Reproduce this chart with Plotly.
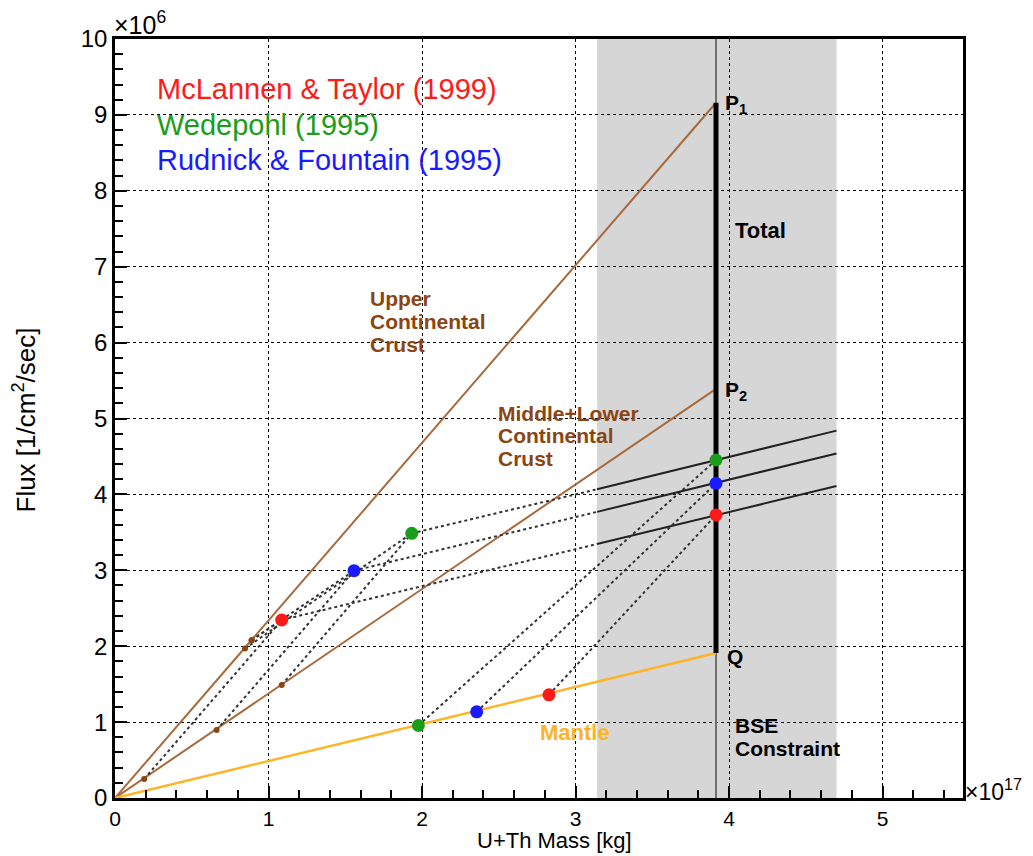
import plotly.graph_objects as go

# ---------------- data ----------------
models = ["McLannen & Taylor (1999)", "Wedepohl (1995)", "Rudnick & Fountain (1995)"]
model_colors = ["#ff1a1a", "#1a9e1a", "#1a1aff"]

# reservoir lines from origin to the BSE constraint mass
bse_mass = 3.915
ucc_line_flux = 9.16      # P1
mlcc_line_flux = 5.39     # P2
mantle_line_flux = 1.91   # Q

# upper crust contributions per model
ucc_mass = [0.89, 0.847, 0.89]
ucc_flux = [2.08, 1.97, 2.08]
# middle + lower crust contributions per model
mlcc_mass = [0.19, 1.086, 0.662]
mlcc_flux = [0.25, 1.49, 0.896]
# whole crust (sum) per model
crust_mass = [1.086, 1.933, 1.557]
crust_flux = [2.345, 3.487, 2.995]
# mantle contribution per model
mantle_mass = [2.827, 1.976, 2.356]
mantle_flux = [1.36, 0.955, 1.135]
# total flux at the BSE constraint
total_flux = [3.729, 4.453, 4.146]

# shaded band and total-flux lines
band_lo, band_hi = 3.14, 4.70
tline_lo_flux = [3.346, 4.067, 3.77]
tline_hi_flux = [4.11, 4.84, 4.54]

x_range = [0, 5.524]
y_range = [0, 10]

BROWN_LINE = "#a86a3d"
BROWN_TEXT = "#8b4513"
ORANGE = "#ffb326"
DOT = "#333333"
FONT = "Liberation Sans, Arial, Helvetica, sans-serif"

fig = go.Figure()

# BSE thin vertical line
fig.add_trace(go.Scatter(x=[bse_mass, bse_mass], y=y_range, mode="lines",
                         line=dict(color="#707070", width=2), hoverinfo="skip", showlegend=False))

# reservoir lines
fig.add_trace(go.Scatter(x=[0, bse_mass], y=[0, ucc_line_flux], mode="lines",
                         line=dict(color=BROWN_LINE, width=2), showlegend=False))
fig.add_trace(go.Scatter(x=[0, bse_mass], y=[0, mlcc_line_flux], mode="lines",
                         line=dict(color=BROWN_LINE, width=2), showlegend=False))
fig.add_trace(go.Scatter(x=[0, bse_mass], y=[0, mantle_line_flux], mode="lines",
                         line=dict(color=ORANGE, width=2.5), showlegend=False))

# dotted construction lines
for i in range(3):
    segs = [
        ([ucc_mass[i], crust_mass[i]], [ucc_flux[i], crust_flux[i]]),
        ([mlcc_mass[i], crust_mass[i]], [mlcc_flux[i], crust_flux[i]]),
        ([crust_mass[i], band_lo], [crust_flux[i], tline_lo_flux[i]]),
        ([mantle_mass[i], bse_mass], [mantle_flux[i], total_flux[i]]),
    ]
    for xs, ys in segs:
        fig.add_trace(go.Scatter(x=xs, y=ys, mode="lines",
                                 line=dict(color=DOT, width=2, dash="dot"),
                                 showlegend=False))
    # solid total lines inside the band
    fig.add_trace(go.Scatter(x=[band_lo, band_hi], y=[tline_lo_flux[i], tline_hi_flux[i]],
                             mode="lines", line=dict(color="#222222", width=2),
                             showlegend=False))

# thick total bar Q -> P1
fig.add_trace(go.Scatter(x=[bse_mass, bse_mass], y=[mantle_line_flux, ucc_line_flux], mode="lines",
                         line=dict(color="black", width=5), showlegend=False))

# small brown points
fig.add_trace(go.Scatter(x=ucc_mass + mlcc_mass, y=ucc_flux + mlcc_flux, mode="markers",
                         marker=dict(color="#8b4513", size=6), showlegend=False))

# big coloured points
for i in range(3):
    fig.add_trace(go.Scatter(x=[crust_mass[i], mantle_mass[i], bse_mass],
                             y=[crust_flux[i], mantle_flux[i], total_flux[i]],
                             mode="markers", name=models[i],
                             marker=dict(color=model_colors[i], size=13),
                             showlegend=False))

# shaded BSE band
fig.add_shape(type="rect", xref="x", yref="y", x0=band_lo, x1=band_hi, y0=y_range[0], y1=y_range[1],
              fillcolor="#d6d6d6", line=dict(width=0), layer="below")

L, R, T, B = 115, 963, 39, 798
def px(xp):
    return (xp - L) / (R - L)
def py(yp):
    return (B - yp) / (B - T)

ann = []
def text(x, y, s, color="black", size=20, xanchor="left", yanchor="middle", bold=False, angle=0):
    if bold:
        s = "<b>" + s + "</b>"
    ann.append(dict(x=px(x), y=py(y), xref="paper", yref="paper", text=s, showarrow=False,
                    font=dict(color=color, size=size, family=FONT), xanchor=xanchor,
                    yanchor=yanchor, textangle=angle))

# legend-like model labels
for i, yy in enumerate([89, 125, 160]):
    text(155, yy, models[i], color=model_colors[i], size=29)

# reservoir labels
for j, s in enumerate(["Upper", "Continental", "Crust"]):
    text(368, 298 + j * 23, s, color=BROWN_TEXT, size=21, bold=True)
for j, s in enumerate(["Middle+Lower", "Continental", "Crust"]):
    text(496, 413 + j * 22.5, s, color=BROWN_TEXT, size=21, bold=True)
text(538, 732, "Mantle", color=ORANGE, size=22, bold=True)
text(723, 104, "P<sub>1</sub>", size=21, bold=True)
text(723, 391, "P<sub>2</sub>", size=21, bold=True)
text(725, 656, "Q", size=21, bold=True)
text(733, 230, "Total", size=22, bold=True)
text(733, 725, "BSE", size=21, bold=True)
text(733, 748, "Constraint", size=21, bold=True)

# exponents
text(112, 23, "×10<sup>6</sup>", size=25, yanchor="middle")
text(963, 790, "×10<sup>17</sup>", size=23, yanchor="middle")

# axis titles
text(634, 855, "U+Th Mass [kg]", size=22, xanchor="right", yanchor="bottom")
text(25, 326, "Flux [1/cm<sup>2</sup>/sec]", size=26, xanchor="center", yanchor="top", angle=-90)

fig.update_layout(annotations=ann)

axis_common = dict(
    showline=True, linecolor="black", linewidth=2.5, mirror=True,
    ticks="inside", ticklen=12, tickwidth=1.5, tickcolor="black",
    showgrid=True, gridcolor="black", gridwidth=1.2, griddash="dot",
    zeroline=False, tickfont=dict(family=FONT, size=24, color="black"),
)
fig.update_xaxes(range=x_range, tickmode="array", tickvals=[0, 1, 2, 3, 4, 5],
                 ticktext=["0", "1", "2", "3", "4", "5"],
                 minor=dict(ticks="inside", ticklen=8, tickwidth=1.5, tickcolor="black",
                            dtick=0.2, showgrid=False), **axis_common)
fig.update_yaxes(range=y_range, tickmode="array", tickvals=list(range(11)),
                 ticktext=[str(v) for v in range(11)],
                 minor=dict(ticks="inside", ticklen=8, tickwidth=1.5, tickcolor="black",
                            dtick=0.2, showgrid=False), **axis_common)
fig.update_xaxes(tickfont=dict(family=FONT, size=21, color="black"))

fig.update_layout(width=1033, height=856, autosize=False,
                  margin=dict(l=L, r=1033 - R, t=T, b=856 - B),
                  paper_bgcolor="white", plot_bgcolor="white", showlegend=False)

fig.write_html("out.html")
